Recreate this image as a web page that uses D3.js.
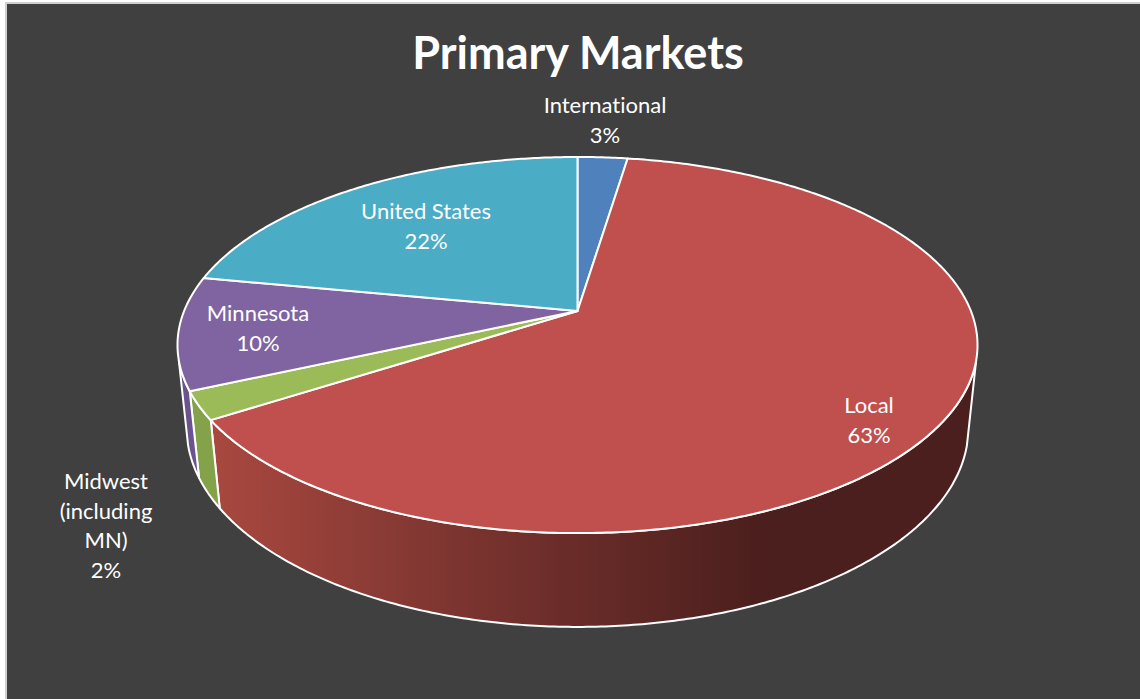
<html>
<head>
<meta charset="utf-8">
<script src="https://d3js.org/d3.v7.min.js"></script>
<style>
    body,html{
        margin: 0;
        padding: 0;
        background: #ffffff;
        overflow: hidden;
    }
    text {font-family: "Lato", "Open Sans", sans-serif; fill: #ffffff; font-variant-ligatures: none;}
</style>
</head>
<body>
<div id="my_dataviz"></div>
<script>

// values
var categories = ["International", "Local", "Midwest (including MN)", "Minnesota", "United States"];
var values = [2.4, 63.5, 2.4, 9.7, 22.0];
var percentLabels = ["3%", "63%", "2%", "10%", "22%"];
var colors = ["#4f81bd", "#c0504d", "#9bbb59", "#8064a2", "#4bacc6"];
var wallColors = ["#3f6797", "#a5453f", "#83a24a", "#6b5390", "#3c8a9e"];

var w = 1140;
var h = 699;

// label lines and where they sit
var labelLines = [["International"], ["Local"], ["Midwest", "(including", "MN)"], ["Minnesota"], ["United States"]];
var labelSpots = [[605, 113], [869, 413], [106, 489], [258, 321], [426, 219]];

var svg = d3.select("#my_dataviz")
    .append("svg")
    .attr("width", w)
    .attr("height", h);

// panel with the pale edge on top and left
svg.append("rect").attr("x", 5).attr("y", 2).attr("width", w).attr("height", h).attr("fill", "#d0d0d0");
svg.append("rect").attr("x", 7).attr("y", 4).attr("width", w).attr("height", h).attr("fill", "#404040");

var defs = svg.append("defs");
var grad = defs.append("linearGradient")
    .attr("id", "localWall")
    .attr("gradientUnits", "userSpaceOnUse")
    .attr("x1", 215).attr("x2", 760).attr("y1", 0).attr("y2", 0);
grad.append("stop").attr("offset", 0).attr("stop-color", "#a8483f");
grad.append("stop").attr("offset", 0.5).attr("stop-color", "#77322e");
grad.append("stop").attr("offset", 1).attr("stop-color", "#4b1f1d");

// perspective of the tilted disc, z = 0 top face, z = 1 bottom face
var cx = 577.5, cy = 311;
var sx = 393.4, sy = 181.9, tilt = 0.181, dz = 0.0227, ez = 84;

function project(angle, r, z) {
    var u = r * Math.sin(angle);
    var v = -r * Math.cos(angle);
    var k = 1 - tilt * v + dz * z;
    return [cx + sx * u / k, cy + (sy * v + ez * z) / k];
}

var pie = d3.pie().sort(null).value(function(d) { return d; });
var slices = pie(values);

var line = d3.line();

function rim(a0, a1, z) {
    var n = Math.max(2, Math.ceil((a1 - a0) / 0.01));
    return d3.range(n + 1).map(function(i) {
        return project(a0 + (a1 - a0) * i / n, 1, z);
    });
}

// side wall only shows between these two angles
var wallStart = 105 * Math.PI / 180;
var wallEnd = 255 * Math.PI / 180;

svg.append("g")
    .selectAll("path")
    .data(slices.filter(function(d) { return d.endAngle > wallStart && d.startAngle < wallEnd; }))
    .enter()
    .append("path")
    .attr("d", function(d) {
        var a0 = Math.max(d.startAngle, wallStart);
        var a1 = Math.min(d.endAngle, wallEnd);
        return line(rim(a0, a1, 0).concat(rim(a0, a1, 1).reverse())) + "Z";
    })
    .attr("fill", function(d) { return d.index == 1 ? "url(#localWall)" : wallColors[d.index]; })
    .attr("stroke", "#ffffff")
    .attr("stroke-width", 2)
    .attr("stroke-linejoin", "round");

// top face
svg.append("g")
    .selectAll("path")
    .data(slices)
    .enter()
    .append("path")
    .attr("d", function(d) {
        return line([project(0, 0, 0)].concat(rim(d.startAngle, d.endAngle, 0))) + "Z";
    })
    .attr("fill", function(d) { return colors[d.index]; })
    .attr("stroke", "#ffffff")
    .attr("stroke-width", 2)
    .attr("stroke-linejoin", "round");

svg.append("text")
    .attr("x", 578)
    .attr("y", 69)
    .attr("text-anchor", "middle")
    .style("font-size", "45px")
    .style("font-weight", "bold")
    .text("Primary Markets");

// data labels
var labels = svg.append("g")
    .selectAll("text")
    .data(categories)
    .enter()
    .append("text")
    .attr("text-anchor", "middle")
    .style("font-size", "22px")
    .attr("transform", function(d, i) { return "translate(" + labelSpots[i] + ")"; });

labels.each(function(d, i) {
    var t = d3.select(this);
    labelLines[i].concat([percentLabels[i]]).forEach(function(s, j) {
        t.append("tspan").attr("x", 0).attr("y", j * 29.5).text(s);
    });
});

</script>
</body>
</html>
